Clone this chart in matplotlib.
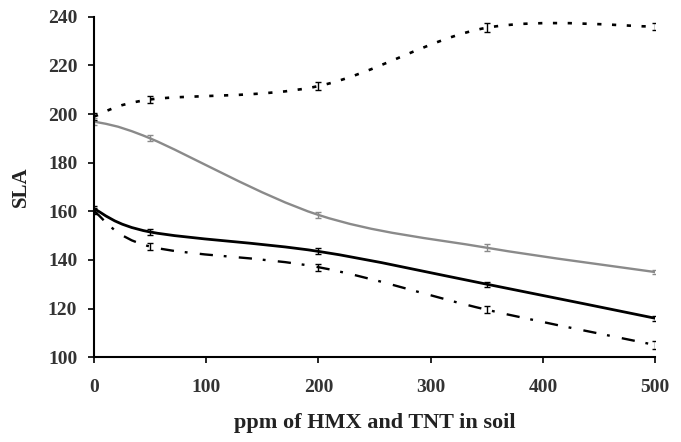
import numpy as np
import matplotlib
matplotlib.use("Agg")
import matplotlib.pyplot as plt
from matplotlib.path import Path
from matplotlib.patches import PathPatch

plt.rcParams['font.family'] = ['Liberation Serif', 'DejaVu Serif']
plt.rcParams['font.weight'] = 'bold'

ppm = [0, 50, 200, 350, 500]
sla_dotted = [199, 206, 211.5, 235.5, 236]
sla_gray = [197, 190, 158.5, 145, 135]
sla_solid = [161, 151.5, 143.5, 130, 116]
sla_dashdot = [160, 145.5, 137, 119.5, 105]
err_dotted = [1.5, 1.5, 1.5, 1.8, 1.5]
err_gray = [1.5, 1.2, 1.2, 1.5, 1.0]
err_solid = [1.2, 1.2, 1.2, 1.0, 1.0]
err_dashdot = [1.2, 1.5, 1.5, 1.5, 1.5]

xticks = [0, 100, 200, 300, 400, 500]
yticks = [100, 120, 140, 160, 180, 200, 220, 240]


def smooth_path(x, y):
    # excel style smoothed line: bezier segments, catmull-rom control points
    p = np.column_stack([x, y]).astype(float)
    n = len(p)
    verts = [p[0]]
    codes = [Path.MOVETO]
    for i in range(n - 1):
        p0 = p[max(i - 1, 0)]
        p1 = p[i]
        p2 = p[i + 1]
        p3 = p[min(i + 2, n - 1)]
        c1 = p1 + (p2 - p0) / 6.0
        c2 = p2 - (p3 - p1) / 6.0
        verts += [c1, c2, p2]
        codes += [Path.CURVE4] * 3
    return Path(verts, codes)


fig = plt.figure(figsize=(6.81, 4.42), dpi=100)
ax = fig.add_axes([0.138, 0.192, 0.824, 0.77])

# dash lengths in units of linewidth
series = [
    (sla_dotted, err_dotted, 'black', 1.9, (0, (1.6, 4.0))),
    (sla_gray, err_gray, '#8a8a8a', 1.7, '-'),
    (sla_solid, err_solid, 'black', 2.0, '-'),
    (sla_dashdot, err_dashdot, 'black', 1.7, (0, (5.6, 4.6, 1.2, 5.2))),
]

for y, e, col, lw, ls in series:
    patch = PathPatch(smooth_path(ppm, y), facecolor='none', edgecolor=col,
                      lw=lw, linestyle=ls, capstyle='butt')
    ax.add_patch(patch)
    ax.errorbar(ppm, y, yerr=e, fmt='none', ecolor=col, elinewidth=1.0,
                capsize=2.5, capthick=1.0)

ax.set_xlim(0, 500)
ax.set_ylim(100, 240)
ax.set_xticks(xticks)
ax.set_yticks(yticks)
ax.spines['top'].set_visible(False)
ax.spines['right'].set_visible(False)
for s in ['left', 'bottom']:
    ax.spines[s].set_linewidth(1.5)
ax.tick_params(direction='out', length=4, width=1.2, labelsize=14)
ax.tick_params(axis='x', pad=12)
ax.tick_params(axis='y', pad=8)
for lab in ax.get_xticklabels() + ax.get_yticklabels():
    lab.set_fontweight('bold')
    lab.set_color('#333333')

ax.set_ylabel('SLA', fontsize=15, fontweight='bold', labelpad=12, color='#222222')
ax.set_xlabel('ppm of HMX and TNT in soil', fontsize=16, fontweight='bold',
              labelpad=12, color='#222222')

fig.savefig('out.png', dpi=100)
